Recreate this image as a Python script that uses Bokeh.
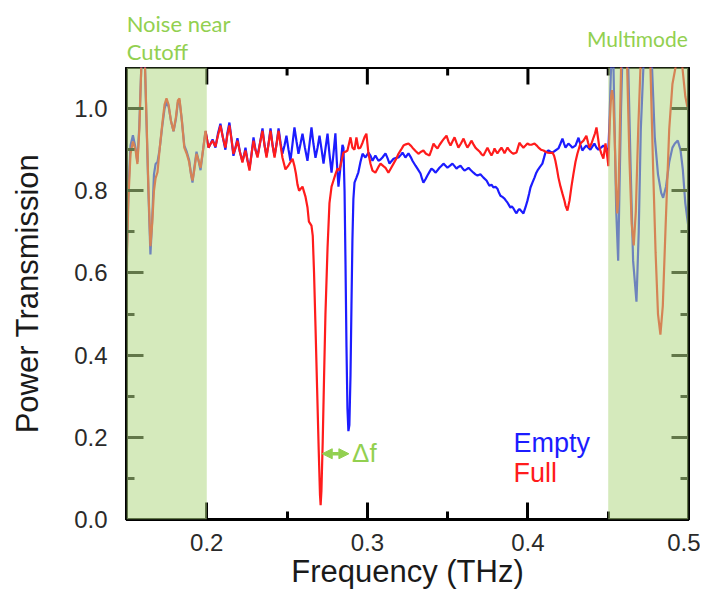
from bokeh.plotting import figure
from bokeh.layouts import column
from bokeh.models import (Range1d, LinearAxis, FixedTicker, BoxAnnotation, Label,
                          Arrow, NormalHead)
from bokeh.embed import file_html
from bokeh.resources import INLINE

# ---------------- data ----------------
freq_full = [
    0.1502, 0.1512, 0.1525, 0.1540, 0.1556, 0.1568, 0.1580, 0.1592, 0.1603, 0.1614,
    0.1625, 0.1637, 0.1649, 0.1660, 0.1671, 0.1681, 0.1693, 0.1706, 0.1722, 0.1737,
    0.1749, 0.1762, 0.1777, 0.1793, 0.1808, 0.1820, 0.1830, 0.1845, 0.1860, 0.1875,
    0.1890, 0.1902, 0.1911, 0.1922, 0.1936, 0.1948, 0.1961, 0.1977, 0.1992, 0.2011,
    0.2024, 0.2036, 0.2054, 0.2070, 0.2085, 0.2100, 0.2116, 0.2128, 0.2141, 0.2154,
    0.2166, 0.2179, 0.2191, 0.2206, 0.2222, 0.2231, 0.2241, 0.2253, 0.2266, 0.2279,
    0.2291, 0.2303, 0.2316, 0.2331, 0.2347, 0.2360, 0.2372, 0.2385, 0.2397, 0.2410,
    0.2422, 0.2435, 0.2447, 0.2460, 0.2471, 0.2490, 0.2509, 0.2534, 0.2546, 0.2555,
    0.2565, 0.2575, 0.2596, 0.2615, 0.2627, 0.2636, 0.2652, 0.2660, 0.2668, 0.2677,
    0.2687, 0.2697, 0.2705, 0.2709, 0.2714, 0.2722, 0.2730, 0.2739, 0.2752, 0.2764,
    0.2777, 0.2789, 0.2801, 0.2814, 0.2826, 0.2839, 0.2851, 0.2864, 0.2876, 0.2895,
    0.2907, 0.2920, 0.2932, 0.2944, 0.2957, 0.2970, 0.2982, 0.2994, 0.3007, 0.3020,
    0.3032, 0.3050, 0.3069, 0.3082, 0.3100, 0.3113, 0.3131, 0.3147, 0.3163, 0.3180,
    0.3194, 0.3210, 0.3225, 0.3240, 0.3256, 0.3270, 0.3281, 0.3300, 0.3318, 0.3335,
    0.3349, 0.3365, 0.3387, 0.3400, 0.3412, 0.3424, 0.3437, 0.3450, 0.3468, 0.3480,
    0.3493, 0.3505, 0.3518, 0.3530, 0.3543, 0.3555, 0.3567, 0.3583, 0.3599, 0.3611,
    0.3623, 0.3636, 0.3648, 0.3661, 0.3673, 0.3686, 0.3700, 0.3713, 0.3723, 0.3735,
    0.3748, 0.3760, 0.3773, 0.3785, 0.3792, 0.3800, 0.3810, 0.3822, 0.3835, 0.3847,
    0.3854, 0.3863, 0.3873, 0.3885, 0.3898, 0.3910, 0.3929, 0.3938, 0.3947, 0.3960,
    0.3972, 0.3985, 0.3997, 0.4010, 0.4022, 0.4041, 0.4055, 0.4066, 0.4081, 0.4097,
    0.4110, 0.4122, 0.4138, 0.4153, 0.4163, 0.4171, 0.4180, 0.4190, 0.4203, 0.4215,
    0.4228, 0.4234, 0.4246, 0.4259, 0.4271, 0.4283, 0.4296, 0.4308, 0.4327, 0.4346,
    0.4364, 0.4374, 0.4383, 0.4396, 0.4408, 0.4418, 0.4427, 0.4436, 0.4445, 0.4458,
    0.4470, 0.4483, 0.4495, 0.4501, 0.4510, 0.4518, 0.4524, 0.4532, 0.4540, 0.4548,
    0.4556, 0.4563, 0.4571, 0.4580, 0.4590, 0.4604, 0.4618, 0.4632, 0.4646, 0.4659,
    0.4672, 0.4687, 0.4701, 0.4720, 0.4745, 0.4763, 0.4780, 0.4795, 0.4810, 0.4825,
    0.4840, 0.4858, 0.4880, 0.4900, 0.4919, 0.4935, 0.4950, 0.4962, 0.4980, 0.5000,
]
trans_full = [
    0.63, 0.78, 0.89, 0.92, 0.90, 0.865, 0.95, 1.10, 1.18, 1.12,
    0.97, 0.80, 0.665, 0.72, 0.80, 0.83, 0.845, 0.90, 0.96, 1.01,
    1.025, 1.01, 0.97, 0.945, 0.98, 1.02, 1.025, 0.97, 0.905, 0.89,
    0.87, 0.84, 0.825, 0.85, 0.89, 0.875, 0.856, 0.90, 0.946, 0.905,
    0.915, 0.922, 0.908, 0.935, 0.959, 0.93, 0.905, 0.935, 0.959, 0.925,
    0.89, 0.905, 0.922, 0.895, 0.869, 0.885, 0.898, 0.875, 0.849, 0.89,
    0.922, 0.90, 0.881, 0.915, 0.946, 0.91, 0.881, 0.915, 0.946, 0.91,
    0.881, 0.915, 0.946, 0.91, 0.881, 0.852, 0.862, 0.878, 0.86, 0.842,
    0.815, 0.80, 0.81, 0.785, 0.76, 0.725, 0.715, 0.69, 0.60, 0.47,
    0.32, 0.17, 0.06, 0.035, 0.07, 0.19, 0.34, 0.50, 0.66, 0.77,
    0.81, 0.825, 0.84, 0.854, 0.85, 0.872, 0.893, 0.895, 0.898, 0.93,
    0.905, 0.90, 0.93, 0.903, 0.905, 0.917, 0.93, 0.939, 0.89, 0.865,
    0.849, 0.844, 0.858, 0.866, 0.86, 0.856, 0.844, 0.855, 0.866, 0.878,
    0.89, 0.90, 0.91, 0.913, 0.915, 0.91, 0.905, 0.897, 0.89, 0.895,
    0.898, 0.89, 0.886, 0.90, 0.915, 0.908, 0.903, 0.912, 0.922, 0.928,
    0.934, 0.92, 0.91, 0.92, 0.93, 0.917, 0.905, 0.915, 0.927, 0.915,
    0.905, 0.913, 0.922, 0.913, 0.905, 0.90, 0.895, 0.888, 0.886, 0.895,
    0.905, 0.895, 0.886, 0.895, 0.903, 0.897, 0.891, 0.898, 0.905, 0.897,
    0.891, 0.898, 0.905, 0.898, 0.893, 0.89, 0.893, 0.905, 0.917, 0.91,
    0.905, 0.91, 0.915, 0.912, 0.912, 0.915, 0.91, 0.905, 0.90, 0.898,
    0.895, 0.893, 0.892, 0.893, 0.885, 0.873, 0.855, 0.832, 0.81, 0.793,
    0.775, 0.764, 0.752, 0.776, 0.81, 0.84, 0.87, 0.89, 0.915, 0.922,
    0.934, 0.918, 0.905, 0.915, 0.929, 0.94, 0.954, 0.93, 0.905, 0.89,
    0.878, 0.915, 0.881, 0.86, 0.97, 1.03, 1.045, 1.02, 0.93, 0.82,
    0.745, 0.78, 0.92, 1.10, 1.20, 1.20, 1.10, 0.88, 0.72, 0.667,
    0.75, 0.95, 1.10, 1.22, 1.22, 1.10, 0.85, 0.65, 0.50, 0.45,
    0.52, 0.72, 0.95, 1.06, 1.10, 1.15, 1.15, 1.10, 1.03, 0.99,
]

freq_empty = [
    0.1502, 0.1512, 0.1525, 0.1540, 0.1556, 0.1568, 0.1580, 0.1592, 0.1603, 0.1614,
    0.1625, 0.1637, 0.1649, 0.1660, 0.1671, 0.1681, 0.1693, 0.1706, 0.1722, 0.1737,
    0.1749, 0.1762, 0.1777, 0.1793, 0.1808, 0.1820, 0.1830, 0.1845, 0.1860, 0.1875,
    0.1890, 0.1902, 0.1911, 0.1922, 0.1936, 0.1948, 0.1961, 0.1977, 0.1992, 0.2011,
    0.2024, 0.2036, 0.2054, 0.2070, 0.2085, 0.2100, 0.2116, 0.2128, 0.2141, 0.2154,
    0.2166, 0.2179, 0.2191, 0.2206, 0.2222, 0.2231, 0.2241, 0.2253, 0.2266, 0.2279,
    0.2291, 0.2303, 0.2316, 0.2331, 0.2347, 0.2360, 0.2372, 0.2385, 0.2397, 0.2410,
    0.2422, 0.2435, 0.2447, 0.2460, 0.2471, 0.2484, 0.2496, 0.2509, 0.2521, 0.2534,
    0.2546, 0.2559, 0.2571, 0.2584, 0.2596, 0.2611, 0.2627, 0.2640, 0.2652, 0.2664,
    0.2677, 0.2690, 0.2702, 0.2715, 0.2727, 0.2740, 0.2752, 0.2764, 0.2777, 0.2789,
    0.2801, 0.2810, 0.2820, 0.2833, 0.2845, 0.2851, 0.2858, 0.2864, 0.2870, 0.2876,
    0.2882, 0.2888, 0.2895, 0.2901, 0.2907, 0.2913, 0.2920, 0.2932, 0.2944, 0.2957,
    0.2970, 0.2988, 0.3007, 0.3020, 0.3032, 0.3050, 0.3069, 0.3082, 0.3094, 0.3113,
    0.3125, 0.3138, 0.3150, 0.3163, 0.3180, 0.3194, 0.3210, 0.3219, 0.3237, 0.3256,
    0.3270, 0.3281, 0.3300, 0.3315, 0.3331, 0.3340, 0.3349, 0.3362, 0.3374, 0.3387,
    0.3399, 0.3412, 0.3424, 0.3437, 0.3449, 0.3462, 0.3474, 0.3487, 0.3499, 0.3515,
    0.3530, 0.3543, 0.3555, 0.3567, 0.3580, 0.3592, 0.3605, 0.3617, 0.3630, 0.3645,
    0.3661, 0.3673, 0.3686, 0.3704, 0.3723, 0.3742, 0.3760, 0.3773, 0.3785, 0.3798,
    0.3810, 0.3820, 0.3829, 0.3841, 0.3854, 0.3863, 0.3873, 0.3882, 0.3891, 0.3900,
    0.3910, 0.3920, 0.3929, 0.3938, 0.3947, 0.3960, 0.3972, 0.3985, 0.3997, 0.4007,
    0.4016, 0.4028, 0.4041, 0.4050, 0.4059, 0.4075, 0.4090, 0.4100, 0.4109, 0.4128,
    0.4140, 0.4153, 0.4171, 0.4190, 0.4203, 0.4215, 0.4225, 0.4234, 0.4252, 0.4265,
    0.4277, 0.4296, 0.4315, 0.4327, 0.4339, 0.4352, 0.4364, 0.4377, 0.4389, 0.4402,
    0.4414, 0.4427, 0.4439, 0.4455, 0.4470, 0.4483, 0.4495, 0.4501, 0.4508, 0.4516,
    0.4524, 0.4532, 0.4540, 0.4550, 0.4562, 0.4570, 0.4580, 0.4590, 0.4610, 0.4625,
    0.4640, 0.4655, 0.4676, 0.4690, 0.4703, 0.4719, 0.4735, 0.4755, 0.4773, 0.4790,
    0.4810, 0.4830, 0.4842, 0.4860, 0.4880, 0.4900, 0.4915, 0.4933, 0.4950, 0.4965,
    0.4980, 0.5000,
]
trans_empty = [
    0.65, 0.80, 0.91, 0.935, 0.905, 0.87, 0.96, 1.10, 1.18, 1.12,
    0.96, 0.79, 0.645, 0.73, 0.84, 0.865, 0.87, 0.90, 0.955, 1.00,
    1.015, 1.005, 0.97, 0.945, 0.975, 1.015, 1.02, 0.97, 0.91, 0.895,
    0.875, 0.84, 0.82, 0.855, 0.895, 0.875, 0.85, 0.90, 0.945, 0.905,
    0.915, 0.925, 0.905, 0.94, 0.963, 0.93, 0.90, 0.94, 0.966, 0.925,
    0.885, 0.905, 0.928, 0.895, 0.872, 0.885, 0.905, 0.875, 0.855, 0.89,
    0.93, 0.90, 0.885, 0.915, 0.952, 0.91, 0.885, 0.915, 0.952, 0.91,
    0.885, 0.915, 0.952, 0.915, 0.89, 0.91, 0.934, 0.90, 0.873, 0.915,
    0.954, 0.92, 0.89, 0.915, 0.939, 0.905, 0.873, 0.915, 0.954, 0.915,
    0.88, 0.905, 0.934, 0.90, 0.866, 0.905, 0.939, 0.89, 0.844, 0.89,
    0.94, 0.87, 0.81, 0.86, 0.912, 0.905, 0.80, 0.62, 0.42, 0.27,
    0.215, 0.23, 0.35, 0.52, 0.68, 0.78, 0.82, 0.832, 0.845, 0.87,
    0.89, 0.881, 0.893, 0.885, 0.873, 0.886, 0.873, 0.876, 0.881, 0.891,
    0.88, 0.866, 0.872, 0.878, 0.88, 0.881, 0.888, 0.893, 0.881, 0.891,
    0.882, 0.873, 0.861, 0.852, 0.842, 0.83, 0.820, 0.828, 0.837, 0.846,
    0.854, 0.85, 0.844, 0.85, 0.856, 0.861, 0.866, 0.861, 0.856, 0.861,
    0.866, 0.86, 0.854, 0.858, 0.861, 0.855, 0.849, 0.852, 0.856, 0.85,
    0.844, 0.84, 0.837, 0.84, 0.832, 0.825, 0.812, 0.815, 0.808, 0.81,
    0.805, 0.795, 0.788, 0.785, 0.781, 0.776, 0.771, 0.765, 0.759, 0.762,
    0.757, 0.75, 0.745, 0.752, 0.756, 0.75, 0.745, 0.76, 0.776, 0.792,
    0.808, 0.82, 0.832, 0.842, 0.849, 0.858, 0.866, 0.88, 0.893, 0.898,
    0.895, 0.893, 0.898, 0.903, 0.915, 0.927, 0.915, 0.905, 0.915, 0.91,
    0.905, 0.91, 0.929, 0.912, 0.898, 0.905, 0.91, 0.905, 0.90, 0.908,
    0.915, 0.905, 0.90, 0.905, 0.91, 0.905, 0.90, 0.898, 0.97, 1.08,
    1.15, 1.12, 0.95, 0.75, 0.63, 0.80, 1.00, 1.15, 1.20, 1.10,
    0.85, 0.63, 0.53, 0.70, 0.95, 1.10, 1.20, 1.18, 1.10, 0.93,
    0.84, 0.795, 0.783, 0.81, 0.87, 0.905, 0.915, 0.922, 0.90, 0.85,
    0.77, 0.71,
]

x_major_ticks = [0.2, 0.3, 0.4, 0.5]
x_minor_ticks = [0.15, 0.25, 0.35, 0.45]
y_major_ticks = [0.0, 0.2, 0.4, 0.6, 0.8, 1.0]
y_minor_ticks = [0.1, 0.3, 0.5, 0.7, 0.9]
shaded_regions = [(0.15, 0.20), (0.45, 0.50)]
delta_f_start = 0.2719
delta_f_end = 0.2885
delta_f_level = 0.16

BLUE = "#1c1cff"
RED = "#ff1c1c"
GREEN_TXT = "#92D050"
SHADE = "#B2D885"

W = 700
TOP_H = 67
MAIN_H = 526
LEFT_B = 126
RIGHT_B = 12
BOTTOM_B = 74
X0, X1 = 0.15, 0.5
Y0, Y1 = 0.0, 1.1
MAJOR_IN = 17
MINOR_IN = 8

px_per_y = (MAIN_H - BOTTOM_B) / (Y1 - Y0)

# ---------------- header strip with the region names ----------------
head = figure(width=W, height=TOP_H, title=None,
              x_range=Range1d(X0, X1),
              y_range=Range1d(Y1, Y1 + TOP_H / px_per_y),
              output_backend="svg", toolbar_location=None,
              x_axis_type=None, y_axis_type=None,
              min_border_left=LEFT_B, min_border_right=RIGHT_B,
              min_border_top=0, min_border_bottom=0)
head.outline_line_color = None
head.xgrid.visible = False
head.ygrid.visible = False
head.add_layout(Label(x=0.1501, y=1.208, text="Noise near", text_font="Lato",
                      text_font_size="22px", text_color=GREEN_TXT,
                      text_baseline="alphabetic"))
head.add_layout(Label(x=0.1501, y=1.139, text="Cutoff", text_font="Lato",
                      text_font_size="22px", text_color=GREEN_TXT,
                      text_baseline="alphabetic"))
head.add_layout(Label(x=0.4996, y=1.171, text="Multimode", text_font="Lato",
                      text_font_size="21px", text_color=GREEN_TXT,
                      text_align="right", text_baseline="alphabetic"))

# ---------------- main plot ----------------
p = figure(width=W, height=MAIN_H, title=None,
           x_range=Range1d(X0, X1), y_range=Range1d(Y0, Y1),
           output_backend="svg", toolbar_location=None,
           min_border_left=LEFT_B, min_border_right=RIGHT_B,
           min_border_top=0, min_border_bottom=BOTTOM_B)
p.background_fill_color = "white"
p.border_fill_color = "white"
p.outline_line_color = "black"
p.outline_line_width = 3
p.xgrid.visible = False
p.ygrid.visible = False

p.line(freq_empty, trans_empty, line_color=BLUE, line_width=2.2)
p.line(freq_full, trans_full, line_color=RED, line_width=2.2)

# inward ticks along the top edge (mirror of the bottom axis)
p.segment(x0=x_major_ticks, y0=[Y1] * len(x_major_ticks),
          x1=x_major_ticks, y1=[Y1 - MAJOR_IN / px_per_y] * len(x_major_ticks),
          line_color="black", line_width=3)
p.segment(x0=x_minor_ticks, y0=[Y1] * len(x_minor_ticks),
          x1=x_minor_ticks, y1=[Y1 - MINOR_IN / px_per_y] * len(x_minor_ticks),
          line_color="black", line_width=3)

for (lo, hi) in shaded_regions:
    p.add_layout(BoxAnnotation(left=lo, right=hi, fill_color=SHADE, fill_alpha=0.55,
                               line_color=None))


def style_axis(ax):
    ax.axis_line_width = 3
    ax.axis_line_color = "black"
    ax.major_tick_in = MAJOR_IN
    ax.major_tick_out = 0
    ax.minor_tick_in = MINOR_IN
    ax.minor_tick_out = 0
    ax.major_tick_line_width = 3
    ax.minor_tick_line_width = 3
    ax.major_tick_line_color = "black"
    ax.minor_tick_line_color = "black"
    ax.major_label_text_font = "Liberation Sans"
    ax.major_label_text_font_size = "24px"
    ax.major_label_text_color = "#2a2a2a"
    ax.axis_label_text_font = "Liberation Sans"
    ax.axis_label_text_font_style = "normal"
    ax.axis_label_text_color = "#1a1a1a"


xt = FixedTicker(ticks=x_major_ticks, minor_ticks=x_minor_ticks)
yt = FixedTicker(ticks=y_major_ticks, minor_ticks=y_minor_ticks)

p.xaxis.ticker = xt
p.yaxis.ticker = yt
p.xaxis.major_label_overrides = {t: f"{t:.1f}" for t in x_major_ticks}
p.yaxis.major_label_overrides = {t: f"{t:.1f}" for t in y_major_ticks}
style_axis(p.xaxis[0])
style_axis(p.yaxis[0])
p.xaxis.major_label_standoff = 14
p.yaxis.major_label_standoff = 19
p.xaxis.axis_label = "Frequency (THz)"
p.xaxis.axis_label_text_font_size = "31px"
p.xaxis.axis_label_standoff = 0
p.yaxis.axis_label = "Power Transmission"
p.yaxis.axis_label_text_font_size = "31px"
p.yaxis.axis_label_standoff = 26

right_ax = LinearAxis(ticker=yt, major_label_overrides={t: "" for t in y_major_ticks})
style_axis(right_ax)
right_ax.major_label_text_font_size = "1px"
right_ax.major_label_standoff = 0
p.add_layout(right_ax, "right")

p.add_layout(Arrow(x_start=delta_f_start, y_start=delta_f_level,
                   x_end=delta_f_end, y_end=delta_f_level,
                   line_color=GREEN_TXT, line_width=3.5,
                   start=NormalHead(size=10, fill_color=GREEN_TXT, line_color=GREEN_TXT),
                   end=NormalHead(size=10, fill_color=GREEN_TXT, line_color=GREEN_TXT)))
p.add_layout(Label(x=0.2905, y=0.161, text="Δf", text_font="Liberation Sans",
                   text_font_size="26px", text_color=GREEN_TXT,
                   text_baseline="alphabetic"))
p.add_layout(Label(x=0.3910, y=0.185, text="Empty", text_font="Liberation Sans",
                   text_font_size="27px", text_color=BLUE, text_baseline="alphabetic"))
p.add_layout(Label(x=0.3910, y=0.112, text="Full", text_font="Liberation Sans",
                   text_font_size="27px", text_color=RED, text_baseline="alphabetic"))

layout = column(head, p, spacing=0)
open("out.html", "w").write(file_html(layout, INLINE))
